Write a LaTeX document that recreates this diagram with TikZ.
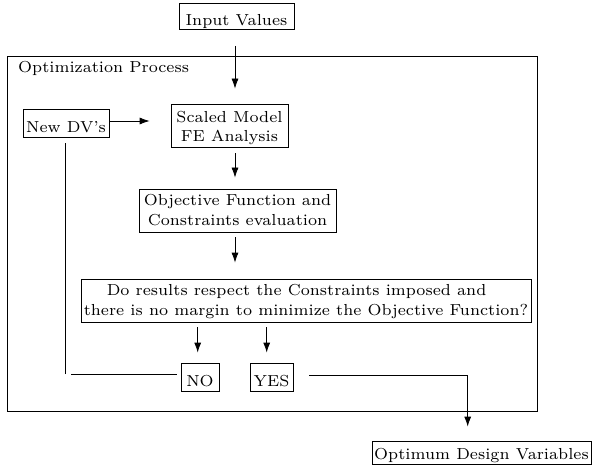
\documentclass[tikz,border=0pt]{standalone}
\usepackage{graphicx}
\usetikzlibrary{arrows.meta,calc}
\newcommand{\tx}[2][0]{\raisebox{-#1pt}[\height][\depth]{\scalebox{2.28}{\fontsize{7}{8.77}\selectfont #2}}}
\newcommand{\txx}[2][0]{\raisebox{-#1pt}[\height][\depth]{\scalebox{2.28}{\fontsize{7}{8.77}\selectfont\begin{tabular}{@{}c@{}}#2\end{tabular}}}}
\begin{document}
\begin{tikzpicture}[x=1pt,y=-1pt,
  box/.style={draw, rectangle, inner sep=0pt, line width=0.8pt},
  conn/.style={line width=0.8pt},
  arr/.style={conn, -{Latex[length=10pt,width=7pt]}}]
\useasboundingbox (0,0) rectangle (592,468);
% outer frame
\node[box, minimum width=530, minimum height=355] (outer) at (272,233.5) {};
\node[anchor=base west, inner sep=0pt] (lbl) at (18,73) {\tx{Optimization Process}};
% nodes
\node[box, minimum width=115, minimum height=26] (in) at (236.5,16.5) {\tx[5]{Input Values}};
\node[box, minimum width=86, minimum height=28] (ndv) at (66,123) {\tx[4.4]{New DV’s}};
\node[box, minimum width=117, minimum height=43] (sm) at (229.5,125.5) {\txx[2.5]{Scaled Model\\FE Analysis}};
\node[box, minimum width=197, minimum height=43] (of) at (237.5,210.5) {\txx[1]{Objective Function and\\Constraints evaluation}};
\node[box, minimum width=450, minimum height=43] (dr) at (306,300.5) {\txx[1]{Do results respect the Constraints imposed and\kern8.3pt\\there is no margin to minimize the Objective Function?}};
\node[box, minimum width=38, minimum height=28] (no) at (200,377) {\tx[4.4]{NO}};
\node[box, minimum width=43, minimum height=28] (yes) at (271.5,377) {\tx[4.4]{YES}};
\node[box, minimum width=219, minimum height=23] (opt) at (481.5,452.5) {\tx[3]{Optimum Design Variables}};
% helper coordinates
\coordinate (ax) at (235,0);
\coordinate (nx) at (197.7,0);
\coordinate (yx) at (266.7,0);
\coordinate (ay) at (0,121);
\coordinate (c1) at (70.7,374.7);
\coordinate (c2) at (65,374);
\coordinate (c3) at (467.7,375);
% connectors
\draw[arr, shorten <=16pt, shorten >=15pt] (in.south -| ax) -- (sm.north -| ax);
\draw[arr, shorten <=6pt, shorten >=11pt] (sm.south -| ax) -- (of.north -| ax);
\draw[arr, shorten <=5pt, shorten >=16pt] (of.south -| ax) -- (dr.north -| ax);
\draw[arr, shorten <=5pt, shorten >=10pt] (dr.south -| nx) -- (no.north -| nx);
\draw[arr, shorten <=5pt, shorten >=10pt] (dr.south -| yx) -- (yes.north -| yx);
\draw[arr, shorten >=21pt] (ndv.east |- ay) -- (sm.west |- ay);
\draw[conn] ([xshift=-4pt]no.west |- c1) -- (c1);
\draw[conn] (c2) -- ([yshift=-6pt]ndv.south -| c2);
\draw[arr, shorten <=16pt, shorten >=14pt] (yes.east |- c3) -- (c3) -- (opt.north -| c3);
\end{tikzpicture}
\end{document}
